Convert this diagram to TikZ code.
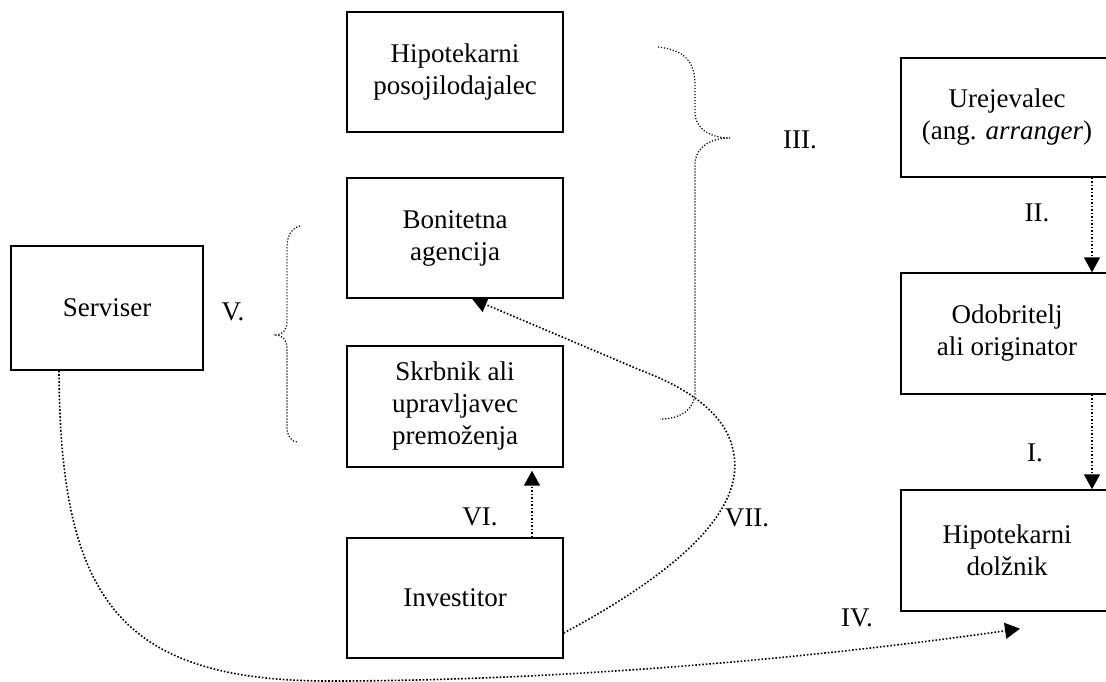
\documentclass[tikz,border=0pt]{standalone}
\usepackage{fontspec}
\setmainfont{Liberation Serif}
\usetikzlibrary{arrows.meta}
\begin{document}
\begin{tikzpicture}[x=1pt,y=-1pt,
 txt/.style={font=\fontsize{27}{32}\selectfont},
 box/.style={txt,draw,line width=1.4pt,align=center,inner sep=0pt,minimum width=216pt,minimum height=120pt},
 lab/.style={txt,inner sep=0pt},
 dots/.style={line width=1.6pt,dash pattern=on 1.6pt off 1.9pt},
 arr/.style={dots,-{Triangle[length=15pt,width=16pt]}},
 bracestyle/.style={line width=1.2pt,dash pattern=on 1.2pt off 1.8pt}]
\useasboundingbox (0,0) rectangle (1106,682);
\clip (0,0) rectangle (1106,682);

% boxes
\node[box] (hp) at (455,72) {Hipotekarni\\posojilodajalec};
\node[box] (bon) at (455,238) {Bonitetna\\agencija};
\node[box,minimum height=121pt] (skr) at (455,406.5) {Skrbnik ali\\upravljavec\\premoženja};
\node[box] (inv) at (455,598) {Investitor};
\node[box,minimum width=192pt,minimum height=124pt] (ser) at (107,308) {Serviser};
\node[box,minimum width=212pt,minimum height=119pt] (ur) at (1007,117.5) {Urejevalec\\(ang. \textit{arranger})};
\node[box,minimum width=212pt,minimum height=121pt] (od) at (1007,333.5) {Odobritelj\\ali originator};
\node[box,minimum width=212pt,minimum height=121pt] (hd) at (1007,550.5) {Hipotekarni\\dolžnik};

% labels
\node[lab] (l1) at (1035,453) {I.};
\node[lab] (l2) at (1037,213) {II.};
\node[lab] (l3) at (800,140) {III.};
\node[lab] (l4) at (857,618) {IV.};
\node[lab] (l5) at (233,312) {V.};
\node[lab] (l6) at (480,517) {VI.};
\node[lab] (l7) at (747,518) {VII.};

% arrows
\draw[arr] ([xshift=85pt]ur.south) -- ([xshift=85pt]od.north);
\draw[arr] ([xshift=85pt]od.south) -- ([xshift=85pt]hd.north);
\draw[arr] ([xshift=77pt]inv.north) -- ([xshift=77pt,yshift=-3pt]skr.south);
\draw[arr] ([yshift=-35pt]inv.east) .. controls (700,560) and (745,500) .. (733,450)
  .. controls (725,410) and (680,385) .. (640,370) -- ([xshift=17pt]bon.south);
\draw[arr] ([xshift=-48pt]ser.south) .. controls (60,600) and (120,681) .. (330,681)
  .. controls (550,681) and (800,660) .. ([xshift=13pt,yshift=-17pt]hd.south);

% braces
\draw[bracestyle] (658,47) .. controls (685,50) and (695,62) .. (695,85) -- (695,112)
  .. controls (695,130) and (712,138) .. (730,138)
  .. controls (712,138) and (695,146) .. (695,165) -- (695,392)
  .. controls (695,410) and (680,419) .. (660,419);
\draw[bracestyle] (300,226) .. controls (292,228) and (287,235) .. (287,248) -- (287,322)
  .. controls (287,330) and (282,335) .. (276,335)
  .. controls (282,335) and (287,340) .. (287,348) -- (287,428)
  .. controls (287,436) and (292,442) .. (297,442);
\end{tikzpicture}
\end{document}
